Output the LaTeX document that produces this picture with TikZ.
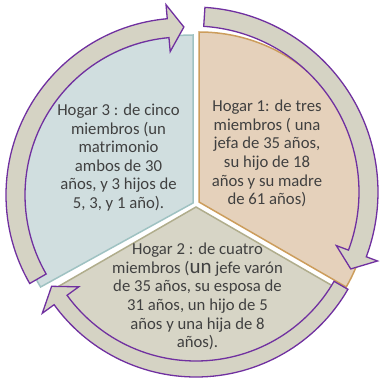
\documentclass[tikz,border=0pt]{standalone}
\usepackage{fontspec}
\setmainfont{Carlito}
\definecolor{arrowfill}{HTML}{D5D3C4}
\definecolor{arrowline}{HTML}{7030A0}
\definecolor{orangefill}{HTML}{E5D1BB}
\definecolor{orangeline}{HTML}{CC9D5C}
\definecolor{bluefill}{HTML}{D0DEDF}
\definecolor{blueline}{HTML}{9FC2C2}
\definecolor{grayfill}{HTML}{D7D5C6}
\definecolor{grayline}{HTML}{B0AD8C}
\definecolor{textgray}{HTML}{404040}
\begin{document}
\begin{tikzpicture}[x=1pt,y=1pt,
  arrowshape/.style={fill=arrowfill, draw=arrowline, line width=1.3pt, line join=miter},
  sector/.style={line width=1.5pt, line join=miter},
  txt/.style={text=textgray, align=center, font=\fontsize{16.7}{18.6}\selectfont, inner sep=0pt}]
\useasboundingbox (0,0) rectangle (380,378);
% sector vertices
\coordinate (V1) at (199,176);
\coordinate (V3) at (193,175);
\coordinate (V2) at (196,171);
% arrow centres
\coordinate (OA) at (183,183);
\coordinate (OB) at (193,186);
\coordinate (OC) at (196,176.4);
% sectors
\draw[sector, fill=grayfill, draw=grayline] (V2) -- ([shift={(210:168)}]V2) arc[start angle=210, end angle=330, radius=168] -- cycle;
\draw[sector, fill=bluefill, draw=blueline] (V3) -- ([shift={(0,168)}]V3) arc[start angle=90, end angle=210, x radius=176, y radius=168] -- cycle;
\draw[sector, fill=orangefill, draw=orangeline] (V1) -- ([shift={(90:170)}]V1) arc[start angle=90, end angle=-30, radius=170] -- cycle;
% arrow A (Hogar 3 -> Hogar 1)
\draw[arrowshape] ([shift={(210:177)}]OA) arc[start angle=210, end angle=95.1, radius=177]
  -- ([shift={(95.1:191)}]OA) -- ([shift={(89.7:168)}]OA) -- ([shift={(95.1:144)}]OA)
  -- ([shift={(95.1:158)}]OA) arc[start angle=95.1, end angle=210, radius=158] -- cycle;
% arrow B (Hogar 1 -> Hogar 2)
\draw[arrowshape] ([shift={(86.3:185)}]OB) arc[start angle=86.3, end angle=-20.5, radius=185]
  -- ([shift={(-20.5:197)}]OB) -- ([shift={(-26:175.5)}]OB) -- ([shift={(-20.5:153)}]OB)
  -- ([shift={(-20.5:166)}]OB) arc[start angle=-20.5, end angle=86.3, radius=166] -- cycle;
% arrow C (Hogar 2 -> Hogar 3)
\draw[arrowshape] ([shift={(330:175.4)}]OC) arc[start angle=330, end angle=216, radius=175.4]
  -- ([shift={(216:190)}]OC) -- ([shift={(210.4:167.4)}]OC) -- ([shift={(216:145)}]OC)
  -- ([shift={(216:159.4)}]OC) arc[start angle=216, end angle=330, radius=159.4] -- cycle;
% texts
\node[txt] (h1) at (267,224.5) {Hogar 1: de tres\\miembros ( una\\jefa de 35 años,\\su hijo de 18\\años y su madre\\de 61 años)};
\node[txt] (h3) at (118.5,220.5) {Hogar 3 : de cinco\\miembros (un\\matrimonio\\ambos de 30\\años, y 3 hijos de\\5, 3, y 1 año).};
\node[txt] (h2) at (197.5,81.5) {Hogar 2 : de cuatro\\miembros ({\fontsize{21}{18.6}\selectfont un} jefe varón\\de 35 años, su esposa de\\31 años, un hijo de 5\\años y una hija de 8\\años).};
\end{tikzpicture}
\end{document}
